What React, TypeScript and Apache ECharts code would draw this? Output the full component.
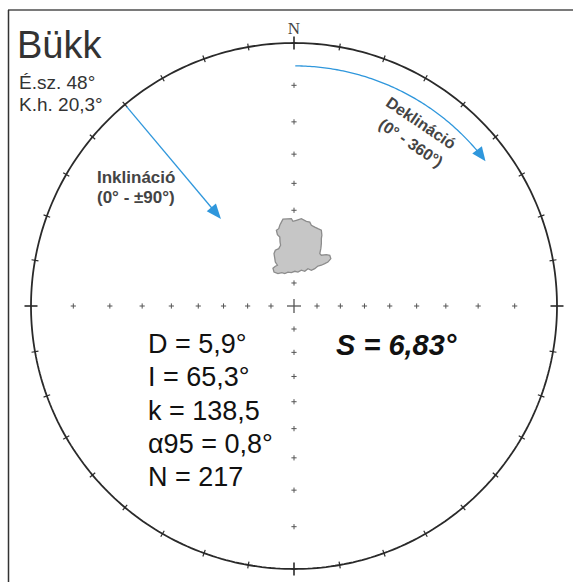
import React, { useEffect, useRef } from "react";
import * as echarts from "echarts";

// ---- data ----
const SITE = "Bükk";
const SITE_COORDS = ["É.sz. 48°", "K.h. 20,3°"];
const NORTH_LABEL = "N";
const INC_LABEL = ["Inklináció", "(0° - ±90°)"];
const DEC_LABEL = ["Deklináció", "(0° - 360°)"];
const STATS = ["D = 5,9°", "I = 65,3°", "k = 138,5", "α95 = 0,8°", "N = 217"];
const S_LABEL = "S = 6,83°";

// declination ticks on the primitive circle (degrees)
const DECL_TICKS = [0, 10, 20, 30, 40, 50, 60, 70, 80, 90, 100, 110, 120, 130, 140, 150, 160, 170,
  180, 190, 200, 210, 220, 230, 240, 250, 260, 270, 280, 290, 300, 310, 320, 330, 340, 350];
// inclination ticks along the N-S / E-W axes (degrees)
const INCL_TICKS = [80, 70, 60, 50, 40, 30, 20, 10];
const AXIS_DIRS = [0, 90, 180, 270];

// outline of the confidence area of the virtual poles (projected, unit circle: x east, y north)
const BLOB_X = [-0.048, -0.042, -0.010, -0.004, 0.009, 0.028, 0.047, 0.060, 0.066, 0.079, 0.091, 0.104,
  0.106, 0.104, 0.104, 0.102, 0.098, 0.104, 0.123, 0.136, 0.140, 0.129, 0.117, 0.104, 0.091, 0.079,
  0.066, 0.053, 0.041, 0.028, 0.015, 0.003, -0.010, -0.023, -0.035, -0.046, -0.061, -0.076, -0.080,
  -0.071, -0.063, -0.071, -0.073, -0.076, -0.071, -0.058, -0.051, -0.053, -0.054, -0.063, -0.067,
  -0.058, -0.054];
const BLOB_Y = [0.319, 0.330, 0.332, 0.322, 0.326, 0.332, 0.322, 0.319, 0.307, 0.300, 0.294, 0.288,
  0.269, 0.256, 0.237, 0.218, 0.199, 0.193, 0.195, 0.193, 0.180, 0.167, 0.161, 0.155, 0.152, 0.142,
  0.136, 0.142, 0.132, 0.136, 0.129, 0.132, 0.127, 0.129, 0.123, 0.127, 0.123, 0.129, 0.144,
  0.151, 0.155, 0.167, 0.180, 0.199, 0.212, 0.218, 0.231, 0.243, 0.262, 0.271, 0.288,
  0.294, 0.307];

// ---- geometry helpers ----
const RAD = Math.PI / 180;
const wulff = (inc: number) => Math.tan(((90 - inc) / 2) * RAD);
const proj = (dec: number, r: number): [number, number] => [r * Math.sin(dec * RAD), r * Math.cos(dec * RAD)];

const BLUE = "#2f97dc";
const INK = "#2a2a2a";

export default function App() {
  const ref = useRef<HTMLDivElement>(null);
  useEffect(() => {
    if (!ref.current) return;
    const chart = echarts.init(ref.current, null, { renderer: "svg" });

    const circle: [number, number][] = [];
    for (let d = 0; d <= 360; d += 1) circle.push(proj(d, 1));

    const declTickData = DECL_TICKS.map((d) => [...proj(d, 1), d]);
    const axisTickData: number[][] = [];
    AXIS_DIRS.forEach((dir) => INCL_TICKS.forEach((inc) => axisTickData.push([...proj(dir, wulff(inc)), 0])));
    axisTickData.push([0, 0, 1]);

    const blobData = BLOB_X.map((x, i) => [x, BLOB_Y[i]]);

    const arcR = 0.913;
    const arcEnd = 49.8;
    const arcTip = 52.9;
    const arc: [number, number][] = [];
    for (let d = 0.3; d <= arcEnd + 0.001; d += 0.5) arc.push(proj(d, arcR));
    arc.push(proj(arcEnd, arcR));

    const incArrow = [[...proj(320, 0.99), ...proj(320, 0.432)]];
    const decHead = [[...proj(arcTip, arcR), arcTip]];

    const head = (tip: number[], ux: number, uy: number, len: number, hw: number) => {
      const bx = tip[0] - ux * len;
      const by = tip[1] - uy * len;
      return [
        [tip[0], tip[1]],
        [bx - uy * hw, by + ux * hw],
        [bx + uy * hw, by - ux * hw],
      ];
    };

    const txt = (text: string, x: number, y: number, font: string, fill: string, align = "left", rotation = 0) => ({
      type: "text",
      x,
      y,
      rotation,
      silent: true,
      style: {
        text,
        font,
        fill,
        align,
        verticalAlign: "middle",
        textAlign: align,
        textVerticalAlign: "middle",
      },
    });

    const SANS = "'Liberation Sans', Arial, sans-serif";

    const option: any = {
      animation: false,
      backgroundColor: "#ffffff",
      grid: { left: 31, top: 43, width: 526, height: 526, containLabel: false },
      xAxis: { type: "value", min: -1, max: 1, show: false },
      yAxis: { type: "value", min: -1, max: 1, show: false },
      series: [
        {
          type: "line",
          data: circle,
          showSymbol: false,
          silent: true,
          lineStyle: { color: INK, width: 1.8 },
          z: 2,
        },
        {
          type: "custom",
          data: declTickData,
          silent: true,
          z: 3,
          renderItem: (params: any, api: any) => {
            const d = api.value(2);
            const p = api.coord([api.value(0), api.value(1)]);
            const major = d % 90 === 0;
            const len = major ? 6.5 : 3.5;
            const nx = Math.sin(d * RAD);
            const ny = -Math.cos(d * RAD);
            return {
              type: "line",
              shape: { x1: p[0] - nx * len, y1: p[1] - ny * len, x2: p[0] + nx * len, y2: p[1] + ny * len },
              style: { stroke: INK, lineWidth: major ? 1.6 : 1.2 },
            };
          },
        },
        {
          type: "custom",
          data: axisTickData,
          silent: true,
          z: 3,
          renderItem: (params: any, api: any) => {
            const p = api.coord([api.value(0), api.value(1)]);
            const big = api.value(2) === 1;
            const s = big ? 7 : 2.6;
            const c = "#555";
            return {
              type: "group",
              children: [
                { type: "line", shape: { x1: p[0] - s, y1: p[1], x2: p[0] + s, y2: p[1] }, style: { stroke: c, lineWidth: big ? 1.3 : 1 } },
                { type: "line", shape: { x1: p[0], y1: p[1] - s, x2: p[0], y2: p[1] + s }, style: { stroke: c, lineWidth: big ? 1.3 : 1 } },
              ],
            };
          },
        },
        {
          type: "custom",
          data: blobData,
          silent: true,
          z: 4,
          renderItem: (params: any, api: any) => {
            if (params.dataIndex !== 0) return null;
            const pts = BLOB_X.map((x, i) => api.coord([x, BLOB_Y[i]]));
            return {
              type: "polygon",
              shape: { points: pts },
              style: { fill: "#c6c6c6", stroke: "#8c8c8c", lineWidth: 1.3 },
            };
          },
        },
        {
          type: "line",
          data: arc,
          showSymbol: false,
          silent: true,
          lineStyle: { color: BLUE, width: 1.3 },
          z: 5,
        },
        {
          type: "custom",
          data: decHead,
          silent: true,
          z: 5,
          renderItem: (params: any, api: any) => {
            const tip = api.coord([api.value(0), api.value(1)]);
            const d = api.value(2) * RAD;
            const ux = Math.cos(d);
            const uy = Math.sin(d);
            return {
              type: "polygon",
              shape: { points: head(tip, ux, uy, 14, 6) },
              style: { fill: BLUE },
            };
          },
        },
        {
          type: "custom",
          data: incArrow,
          encode: { x: [0, 2], y: [1, 3] },
          silent: true,
          z: 5,
          renderItem: (params: any, api: any) => {
            const p0 = api.coord([api.value(0), api.value(1)]);
            const p1 = api.coord([api.value(2), api.value(3)]);
            const dx = p1[0] - p0[0];
            const dy = p1[1] - p0[1];
            const L = Math.hypot(dx, dy);
            const ux = dx / L;
            const uy = dy / L;
            return {
              type: "group",
              children: [
                {
                  type: "line",
                  shape: { x1: p0[0], y1: p0[1], x2: p1[0] - ux * 12, y2: p1[1] - uy * 12 },
                  style: { stroke: BLUE, lineWidth: 1.3 },
                },
                { type: "polygon", shape: { points: head(p1, ux, uy, 15, 6) }, style: { fill: BLUE } },
              ],
            };
          },
        },
      ],
      graphic: [
        { type: "line", silent: true, shape: { x1: 8, y1: 10, x2: 573, y2: 10 }, style: { stroke: "#7a7a7a", lineWidth: 2 } },
        { type: "line", silent: true, shape: { x1: 8.5, y1: 10, x2: 8.5, y2: 582 }, style: { stroke: "#333", lineWidth: 1.5 } },
        txt(SITE, 17, 45, `38px ${SANS}`, "#333"),
        txt(SITE_COORDS[0], 19, 82, `19px ${SANS}`, "#333"),
        txt(SITE_COORDS[1], 19, 104, `19px ${SANS}`, "#333"),
        txt(NORTH_LABEL, 294, 28, "17px 'Liberation Serif', 'Times New Roman', serif", "#444", "center"),
        txt(INC_LABEL[0], 97, 177, `bold 17px ${SANS}`, "#444"),
        txt(INC_LABEL[1], 97, 197, `bold 17px ${SANS}`, "#444"),
        txt(DEC_LABEL[0], 421, 123, `bold 16px ${SANS}`, "#444", "center", -34 * RAD),
        txt(DEC_LABEL[1], 411, 143, `bold 16px ${SANS}`, "#444", "center", -34 * RAD),
        ...STATS.map((s, i) => txt(s, 148, 344 + i * 33.3, `27px ${SANS}`, "#111")),
        txt(S_LABEL, 336, 345, `italic bold 29px ${SANS}`, "#111"),
      ],
    };
    chart.setOption(option);
    return () => chart.dispose();
  }, []);
  return (
    <div
      ref={ref}
      style={{ position: "absolute", left: 0, top: 0, width: 573, height: 582, background: "#fff" }}
    />
  );
}
